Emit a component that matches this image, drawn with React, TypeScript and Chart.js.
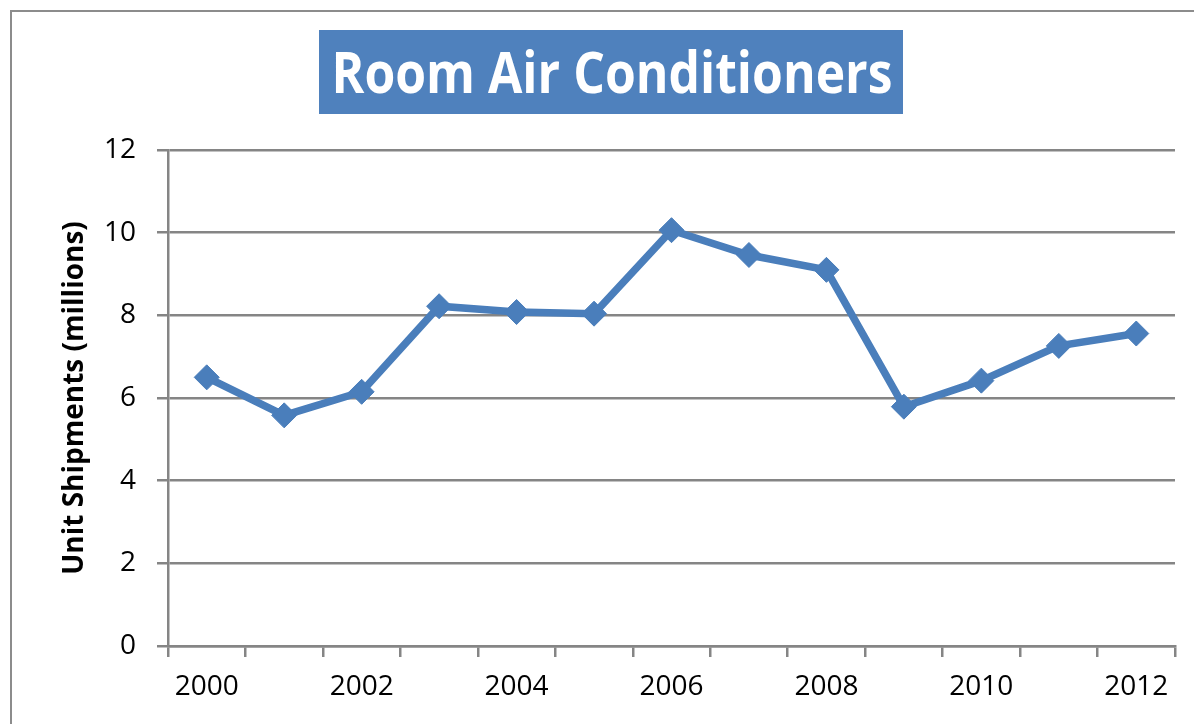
import React, { useEffect, useRef } from 'react';
import { Chart, registerables } from 'chart.js';

Chart.register(...registerables);

const years = ['2000', '2001', '2002', '2003', '2004', '2005', '2006', '2007', '2008', '2009', '2010', '2011', '2012'];
const shipments = [6.5, 5.58, 6.15, 8.22, 8.08, 8.04, 10.06, 9.46, 9.1, 5.79, 6.42, 7.26, 7.56];
const labeledYears = ['2000', '2002', '2004', '2006', '2008', '2010', '2012'];
const yMin = 0;
const yMax = 12;
const yStep = 2;
const chartTitle = 'Room Air Conditioners';
const yAxisTitle = 'Unit Shipments (millions)';

const W = 1194;
const H = 724;
const GRID = '#858585';
const BLUE = '#4a7ebb';

const frameAndTitle = {
  id: 'frameAndTitle',
  beforeDraw(chart: any) {
    const ctx = chart.ctx as CanvasRenderingContext2D;
    ctx.save();
    ctx.fillStyle = '#ffffff';
    ctx.fillRect(0, 0, chart.width, chart.height);
    ctx.strokeStyle = '#8c8c8c';
    ctx.lineWidth = 2;
    ctx.strokeRect(11, 11, chart.width + 40, chart.height + 40);
    ctx.fillStyle = '#4f81bd';
    ctx.fillRect(319, 30, 584, 84);
    ctx.font = 'bold 57px "Open Sans"';
    const w = ctx.measureText(chartTitle).width;
    const sx = 561 / w;
    ctx.translate(612, 93);
    ctx.scale(sx, 1);
    ctx.textAlign = 'center';
    ctx.textBaseline = 'alphabetic';
    ctx.fillStyle = '#ffffff';
    ctx.fillText(chartTitle, 0, 0);
    ctx.restore();
  },
};

export default function App() {
  const ref = useRef<HTMLCanvasElement | null>(null);

  useEffect(() => {
    let chart: Chart | null = null;
    let cancelled = false;
    const make = () => {
      if (cancelled || !ref.current) return;
      chart = new Chart(ref.current, {
        type: 'line',
        data: {
          labels: years,
          datasets: [
            {
              data: shipments,
              borderColor: BLUE,
              backgroundColor: BLUE,
              borderWidth: 7.5,
              tension: 0,
              pointStyle: 'rectRot',
              pointRadius: 12.5,
              pointBorderWidth: 1,
              pointBackgroundColor: BLUE,
              pointBorderColor: BLUE,
            },
          ],
        },
        options: {
          animation: false,
          responsive: false,
          events: [],
          layout: { padding: { top: 150, right: 19, left: 0, bottom: 0 } },
          plugins: {
            legend: { display: false },
            title: { display: false },
            tooltip: { enabled: false },
          },
          scales: {
            x: {
              type: 'category',
              offset: true,
              grid: {
                offset: true,
                drawOnChartArea: false,
                drawTicks: true,
                tickLength: 11,
                color: GRID,
                lineWidth: 2.5,
              },
              border: { color: GRID, width: 2.5 },
              ticks: {
                autoSkip: false,
                maxRotation: 0,
                padding: 13,
                color: '#000000',
                font: { family: 'Open Sans', size: 28 },
                callback: (_v: any, i: number) => (labeledYears.includes(years[i]) ? years[i] : ''),
              },
              afterFit: (s: any) => {
                s.height = 78;
              },
            },
            y: {
              min: yMin,
              max: yMax,
              grid: {
                tickLength: 11,
                color: GRID,
                lineWidth: 2.5,
              },
              border: { color: GRID, width: 2.5 },
              ticks: {
                stepSize: yStep,
                padding: 21,
                color: '#000000',
                font: { family: 'Open Sans', size: 28 },
              },
              title: {
                display: true,
                text: yAxisTitle,
                color: '#000000',
                font: { family: 'Open Sans', size: 28, weight: 'bold' },
                padding: { top: 58, bottom: 0 },
              },
              afterFit: (s: any) => {
                s.width = 168;
              },
            },
          },
        },
        plugins: [frameAndTitle],
      } as any);
    };
    const fonts = (document as any).fonts;
    if (fonts && fonts.load) {
      Promise.all([
        fonts.load('28px "Open Sans"'),
        fonts.load('bold 57px "Open Sans"'),
      ])
        .catch(() => null)
        .then(make);
    } else {
      make();
    }
    return () => {
      cancelled = true;
      if (chart) chart.destroy();
    };
  }, []);

  return (
    <div style={{ position: 'absolute', left: 0, top: 0, width: W, height: H, background: '#fff' }}>
      <canvas ref={ref} width={W} height={H} style={{ display: 'block', width: W, height: H }} />
    </div>
  );
}
